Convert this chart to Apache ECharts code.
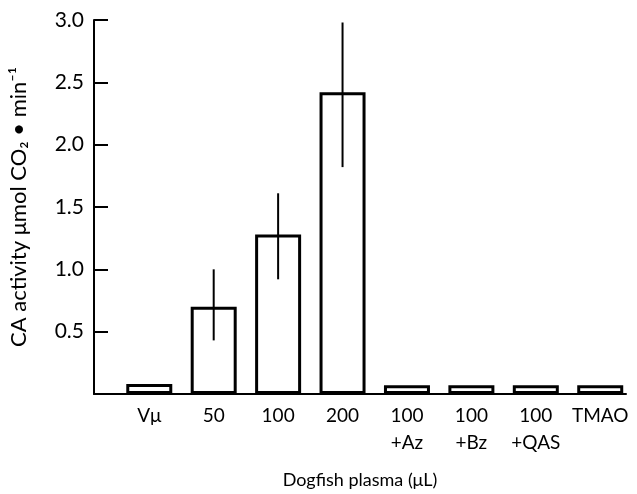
<!DOCTYPE html>
<html>
<head>
<meta charset="utf-8">
<script src="https://cdn.jsdelivr.net/npm/echarts@6/dist/echarts.min.js"></script>
<style>
  html, body { margin: 0; padding: 0; background: #fff; }
  #contain { width: 637px; height: 494px; }
</style>
</head>
<body>
<div id="contain"></div>
<script>
    /*数据*/
    var categories = ["Vμ", "50", "100", "200", "100\n+Az", "100\n+Bz", "100\n+QAS", "TMAO"];
    var activity = [0.08, 0.70, 1.28, 2.42, 0.07, 0.07, 0.07, 0.07];
    var errLow = [null, 0.43, 0.92, 1.82, null, null, null, null];
    var errHigh = [null, 1.00, 1.61, 2.98, null, null, null, null];

    var font = "Lato";

    var barData = [];
    var errData = [];
    for (var i = 0; i < categories.length; i++) {
        barData.push([i, activity[i]]);
        if (errLow[i] !== null) {
            errData.push([i, errLow[i], errHigh[i]]);
        }
    }

    var myChart = echarts.init(document.getElementById("contain"));
    myChart.setOption({
        animation: false,
        grid: {
            left: 92,
            right: 11,
            top: 20,
            bottom: 99
        },
        xAxis: {
            type: 'value',
            min: -0.858,
            max: 7.4,
            name: 'Dogfish plasma (μL)',
            nameLocation: 'middle',
            nameGap: 77,
            nameTextStyle: { fontFamily: font, fontSize: 18, color: '#000' },
            axisLine: { show: true, onZero: false, lineStyle: { color: '#000', width: 2 } },
            axisTick: { show: false },
            splitLine: { show: false },
            axisLabel: {
                customValues: [0, 1, 2, 3, 4, 5, 6, 7],
                formatter: function (v) {
                    return categories[Math.round(v)];
                },
                fontFamily: font,
                fontSize: 19,
                color: '#000',
                lineHeight: 27,
                margin: 8
            }
        },
        yAxis: {
            type: 'value',
            min: 0,
            max: 3,
            interval: 0.5,
            name: 'CA activity μmol CO₂ • min⁻¹',
            nameLocation: 'middle',
            nameGap: 64,
            nameTextStyle: { fontFamily: font, fontSize: 22, color: '#000' },
            axisLine: { show: true, onZero: false, lineStyle: { color: '#000', width: 2 } },
            axisTick: { show: true, inside: true, length: 14, lineStyle: { color: '#000', width: 2 } },
            splitLine: { show: false },
            axisLabel: {
                fontFamily: font,
                fontSize: 21,
                color: '#000',
                margin: 10,
                formatter: function (v) {
                    return v === 0 ? '' : v.toFixed(1);
                }
            }
        },
        series: [
            {
                type: 'bar',
                data: barData,
                barWidth: 46,
                itemStyle: {
                    color: '#fff',
                    borderColor: '#000',
                    borderWidth: 3
                },
                z: 2
            },
            {
                type: 'custom',
                data: errData,
                z: 3,
                renderItem: function (params, api) {
                    var low = api.coord([api.value(0), api.value(1)]);
                    var high = api.coord([api.value(0), api.value(2)]);
                    return {
                        type: 'line',
                        shape: { x1: low[0], y1: low[1], x2: high[0], y2: high[1] },
                        style: { stroke: '#000', lineWidth: 2 }
                    };
                }
            }
        ]
    });
</script>
</body>
</html>
